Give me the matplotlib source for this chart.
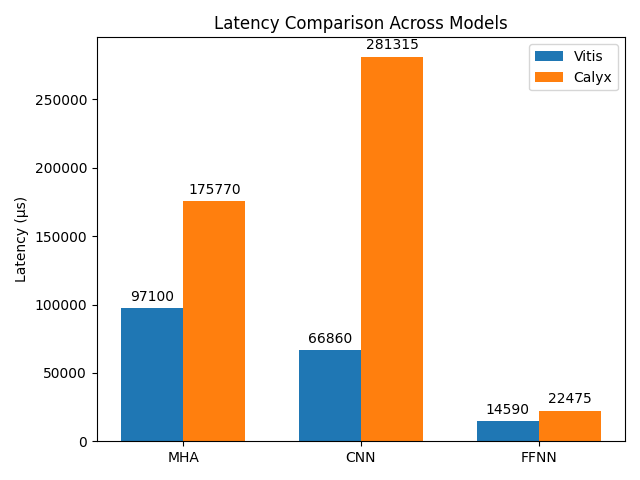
import matplotlib
matplotlib.use("Agg")
import matplotlib.pyplot as plt
import numpy as np

models = ["MHA", "CNN", "FFNN"]
vitis = [97100, 66860, 14590]
calyx = [175770, 281315, 22475]

x = np.arange(len(models))
width = 0.35

fig, ax = plt.subplots(figsize=(6.4, 4.8), dpi=100)
b1 = ax.bar(x - width/2, vitis, width, label="Vitis")
b2 = ax.bar(x + width/2, calyx, width, label="Calyx")
ax.set_ylabel("Latency (µs)")
ax.set_title("Latency Comparison Across Models")
ax.set_xticks(x)
ax.set_xticklabels(models)
ax.legend()
ax.bar_label(b1, padding=3)
ax.bar_label(b2, padding=3)
fig.tight_layout()
fig.savefig("out.png")
